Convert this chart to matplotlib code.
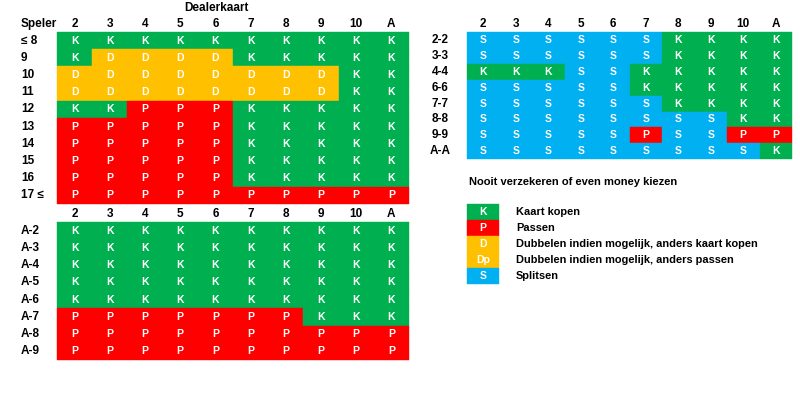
import matplotlib.pyplot as plt
from matplotlib.patches import Rectangle

plt.rcParams['font.family'] = ['Liberation Sans', 'DejaVu Sans']

dealer = ["2", "3", "4", "5", "6", "7", "8", "9", "10", "A"]

hard_rows = ["≤ 8", "9", "10", "11", "12", "13", "14", "15", "16", "17 ≤"]
hard = ["KKKKKKKKKK",
        "KDDDDKKKKK",
        "DDDDDDDDKK",
        "DDDDDDDDKK",
        "KKPPPKKKKK",
        "PPPPPKKKKK",
        "PPPPPKKKKK",
        "PPPPPKKKKK",
        "PPPPPKKKKK",
        "PPPPPPPPPP"]

soft_rows = ["A-2", "A-3", "A-4", "A-5", "A-6", "A-7", "A-8", "A-9"]
soft = ["KKKKKKKKKK",
        "KKKKKKKKKK",
        "KKKKKKKKKK",
        "KKKKKKKKKK",
        "KKKKKKKKKK",
        "PPPPPPPKKK",
        "PPPPPPPPPP",
        "PPPPPPPPPP"]

pair_rows = ["2-2", "3-3", "4-4", "6-6", "7-7", "8-8", "9-9", "A-A"]
pairs = ["SSSSSSKKKK",
         "SSSSSSKKKK",
         "KKKSSKKKKK",
         "SSSSSKKKKK",
         "SSSSSSKKKK",
         "SSSSSSSSKK",
         "SSSSSPSSPP",
         "SSSSSSSSSK"]

legend_codes = ["K", "P", "D", "Dp", "S"]
legend_labels = ["Kaart kopen", "Passen",
                 "Dubbelen indien mogelijk, anders kaart kopen",
                 "Dubbelen indien mogelijk, anders passen",
                 "Splitsen"]

kleuren = {"K": "#00B050", "P": "#FF0000", "D": "#FFC000",
           "Dp": "#FFC000", "S": "#00B0F0"}


def tabel(ax, x0, y0, cw, rh, rijen, labels, label_x, label_ha):
    """Tekent een strategietabel met cellen en rijlabels."""
    for i, rij in enumerate(rijen):
        y = y0 + i * rh
        for j, code in enumerate(rij):
            x = x0 + j * cw
            ax.add_patch(Rectangle((x, y), cw, rh, facecolor=kleuren[code],
                                   edgecolor=kleuren[code], lw=0.3))
            ax.text(x + cw / 2, y + rh / 2, code, color="white",
                    fontsize=7.5, fontweight="bold", ha="center", va="center")
        ax.text(label_x, y + rh / 2, labels[i], fontsize=8.5,
                fontweight="bold", ha=label_ha, va="center")


def kop(ax, x0, y, cw):
    for j, d in enumerate(dealer):
        ax.text(x0 + j * cw + cw / 2, y, d, fontsize=8.5, fontweight="bold",
                ha="center", va="center")


fig = plt.figure(figsize=(8, 4), dpi=100)
ax = fig.add_axes([0, 0, 1, 1])
ax.set_xlim(0, 800)
ax.set_ylim(400, 0)
ax.axis("off")

# linker tabellen
cw_l = 35.2
ax.text(216, 8, "Dealerkaart", fontsize=8.5, fontweight="bold",
        ha="center", va="center")
ax.text(21, 24, "Speler", fontsize=8.5, fontweight="bold", va="center")
kop(ax, 57, 24, cw_l)
tabel(ax, 57, 32, cw_l, 17.2, hard, hard_rows, 21, "left")
kop(ax, 57, 214, cw_l)
tabel(ax, 57, 222, cw_l, 17.25, soft, soft_rows, 21, "left")

# rechter tabel
cw_r = 32.5
kop(ax, 467, 24, cw_r)
tabel(ax, 467, 32, cw_r, 15.9, pairs, pair_rows, 440, "center")

ax.text(469, 182, "Nooit verzekeren of even money kiezen", fontsize=8,
        fontweight="bold", va="center")

# legenda
for i, (code, lab) in enumerate(zip(legend_codes, legend_labels)):
    y = 204 + i * 15.9
    ax.add_patch(Rectangle((467, y), 32, 15.9, facecolor=kleuren[code],
                           edgecolor=kleuren[code], lw=0.3))
    ax.text(483, y + 7.95, code, color="white", fontsize=7.5,
            fontweight="bold", ha="center", va="center")
    ax.text(516, y + 7.95, lab, fontsize=7.9, fontweight="bold", va="center")

fig.savefig("out.png", dpi=100)
